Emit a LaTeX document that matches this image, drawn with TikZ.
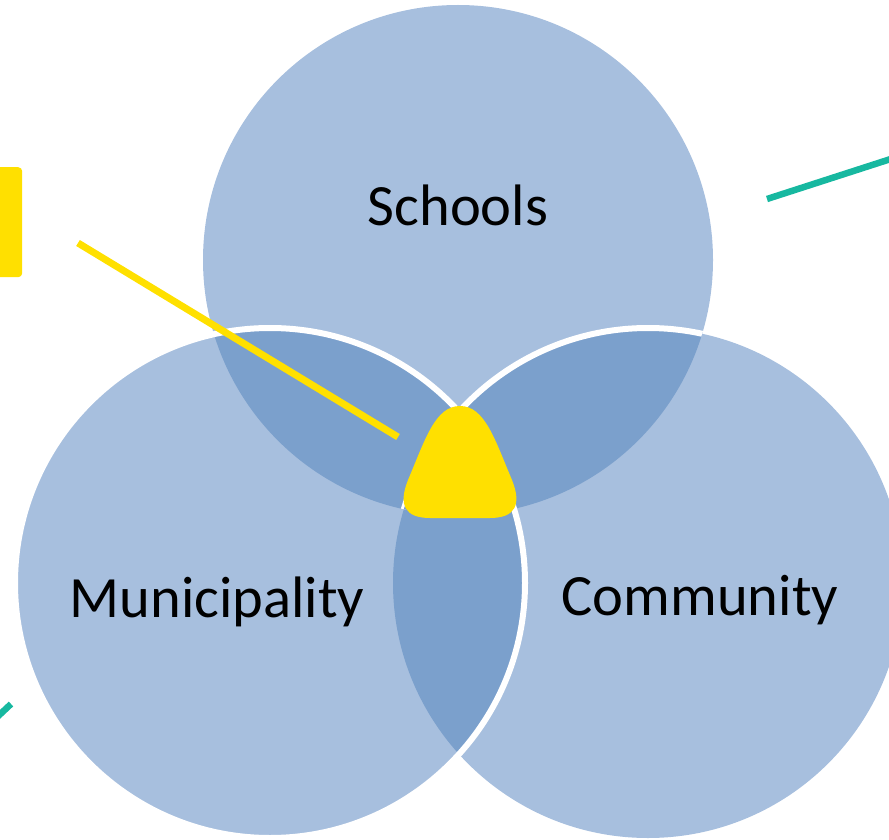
\documentclass[tikz,border=0pt]{standalone}
\usepackage{fontspec}
\setmainfont{Carlito}
\definecolor{vennlight}{HTML}{A7BFDE}
\definecolor{venndark}{HTML}{7BA0CC}
\definecolor{markyellow}{HTML}{FFE000}
\definecolor{markteal}{HTML}{17B8A0}
\tikzset{
  venn/.style={fill=vennlight},
  rim/.style={draw=white, line width=6pt},
  setname/.style={font=\fontsize{58.5}{70}\selectfont, anchor=base, inner sep=0pt},
  marker/.style={draw=markyellow, line width=7pt},
  tealline/.style={draw=markteal, line width=6.5pt}
}

\begin{document}
\begin{tikzpicture}[x=1pt,y=-1pt]
  \useasboundingbox (0,0) rectangle (889,840);
  % Circles
  \coordinate (S) at (458,260);
  \coordinate (M) at (270,583);
  \coordinate (C) at (648,583);
  \fill[venn] (S) circle (255);
  \fill[venn] (M) circle (255);
  \fill[venn] (C) circle (255);
  % Overlaps
  \begin{scope}
    \clip (S) circle (255);
    \fill[venndark] (M) circle (255);
    \fill[venndark] (C) circle (255);
  \end{scope}
  \begin{scope}
    \clip (M) circle (255);
    \fill[venndark] (C) circle (255);
  \end{scope}
  % White rims
  \begin{scope}
    \clip (S) circle (255);
    \draw[rim] (C) circle (255);
  \end{scope}
  \begin{scope}
    \clip (S) circle (255);
    \clip (M) circle (255);
    \fill[venndark] (C) circle (255);
  \end{scope}
  \draw[rim] (M) circle (255);
  % Labels
  \node[setname] (schools) at (458,225) {Schools};
  \node[setname] (municipality) at (217,617) {Municipality};
  \node[setname] (community) at (700,615) {Community};
  % Yellow marks
  \fill[markyellow] (460,406) .. controls (485,406) and (495,440) .. (512,480)
    .. controls (522,505) and (515,518) .. (490,518) -- (430,518)
    .. controls (405,518) and (398,505) .. (408,480)
    .. controls (425,440) and (435,406) .. (460,406) -- cycle;
  \node[fill=markyellow, rounded corners=4pt, minimum width=28pt, minimum height=110pt,
    inner sep=0pt, anchor=north west] (flag) at (-6,167) {};
  \coordinate (pinA) at (78,243);
  \coordinate (pinB) at (398,437);
  \draw[marker] (pinA) -- (pinB);
  % Teal strokes
  \coordinate (tealA) at (767,199);
  \coordinate (tealB) at (900,156);
  \draw[tealline] (tealA) -- (tealB);
  \coordinate (tealC) at (-6,720);
  \coordinate (tealD) at (11,704);
  \draw[tealline] (tealC) -- (tealD);
\end{tikzpicture}
\end{document}
